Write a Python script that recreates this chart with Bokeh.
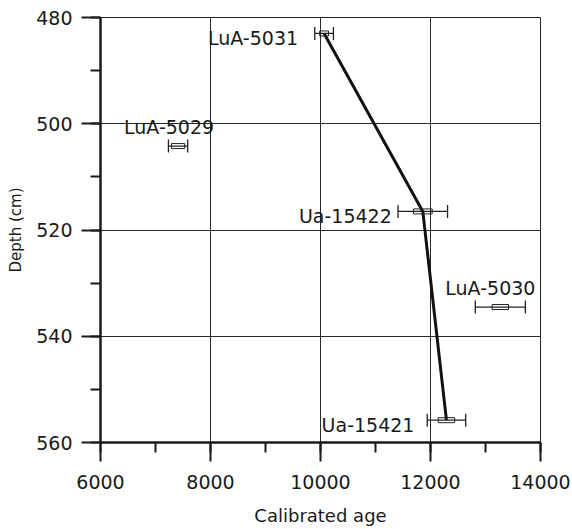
from bokeh.plotting import figure
from bokeh.models import (Range1d, SingleIntervalTicker, ColumnDataSource, Whisker,
                          TeeHead, BasicTickFormatter)
from bokeh.core.properties import value
from bokeh.embed import file_html
from bokeh.resources import INLINE

# Radiocarbon samples: calibrated age (median) with 2-sigma and 1-sigma half-widths
labels = ["LuA-5031", "LuA-5029", "Ua-15422", "LuA-5030", "Ua-15421"]
depth_cm = [483.0, 504.2, 516.5, 534.5, 555.8]
cal_age = [10065, 7410, 11860, 13270, 12290]
err_2sigma = [170, 175, 450, 455, 350]
err_1sigma = [80, 120, 170, 150, 150]

# Samples used in the age-depth model
model_samples = ["LuA-5031", "Ua-15422", "Ua-15421"]

# Label placement (screen pixels) and anchoring
label_dx = [-26, -9, -31, -10, -32]
label_dy = [5, -19, 5, -19, 5]
label_align = ["right", "center", "right", "center", "right"]

FONT = "DejaVu Sans"

p = figure(width=572, height=529, output_backend="svg", toolbar_location=None,
           x_range=Range1d(6000, 14000), y_range=Range1d(560, 480),
           min_border_left=100, min_border_right=32, min_border_top=17,
           min_border_bottom=87)
p.background_fill_color = "white"
p.border_fill_color = "white"
p.outline_line_color = "#222222"
p.outline_line_width = 1

# Axes
p.xaxis.ticker = SingleIntervalTicker(interval=2000, num_minor_ticks=2)
p.yaxis.ticker = SingleIntervalTicker(interval=20, num_minor_ticks=2)
p.xaxis.formatter = BasicTickFormatter(use_scientific=False)
for ax in (p.xaxis[0], p.yaxis[0]):
    ax.axis_line_width = 2.5
    ax.axis_line_color = "#1a1a1a"
    ax.major_tick_out = 19
    ax.major_tick_in = 0
    ax.minor_tick_out = 10
    ax.minor_tick_in = 0
    ax.major_tick_line_width = 2
    ax.minor_tick_line_width = 2
    ax.major_tick_line_color = "#1a1a1a"
    ax.minor_tick_line_color = "#1a1a1a"
    ax.major_label_text_font = FONT
    ax.major_label_text_font_size = "19px"
    ax.major_label_text_color = "#1a1a1a"
    ax.axis_label_text_font = FONT
    ax.axis_label_text_font_style = "normal"
    ax.axis_label_text_color = "#1a1a1a"

p.xaxis.axis_label = "Calibrated age"
p.xaxis.axis_label_text_font_size = "18px"
p.xaxis.major_label_standoff = 13
p.xaxis.axis_label_standoff = 13
p.yaxis.axis_label = "Depth (cm)"
p.yaxis.axis_label_text_font_size = "15px"
p.yaxis.major_label_standoff = 9
p.yaxis.axis_label_standoff = 8

# Grid
p.xgrid.grid_line_color = "#2a2a2a"
p.ygrid.grid_line_color = "#2a2a2a"
p.xgrid.grid_line_width = 1
p.ygrid.grid_line_width = 1

src = ColumnDataSource(dict(
    label=labels, depth=depth_cm, age=cal_age,
    lo2=[a - e for a, e in zip(cal_age, err_2sigma)],
    hi2=[a + e for a, e in zip(cal_age, err_2sigma)],
    w1=[2 * e for e in err_1sigma],
    dx=label_dx, dy=label_dy, align=label_align,
))

# Age-depth model line through the accepted samples
mx = [a for a, l in zip(cal_age, labels) if l in model_samples]
my = [d for d, l in zip(depth_cm, labels) if l in model_samples]
p.line(mx, my, line_color="#111111", line_width=3)

# 2-sigma ranges with end caps
whisk = Whisker(source=src, base="depth", lower="lo2", upper="hi2", dimension="width",
                line_color="#222222", line_width=1.3,
                lower_head=TeeHead(size=13, line_color="#222222", line_width=1.3),
                upper_head=TeeHead(size=13, line_color="#222222", line_width=1.3))
p.add_layout(whisk)

# 1-sigma ranges as narrow double bars
p.rect(x="age", y="depth", width="w1", height=5, height_units="screen", source=src,
       fill_color=None, line_color="#222222", line_width=1)

# Sample labels
p.text(x="age", y="depth", text="label", source=src, x_offset="dx", y_offset="dy",
       text_align="align", text_baseline="middle", text_font=value(FONT),
       text_font_size="19px", text_color="#1a1a1a")

open("out.html", "w").write(file_html(p, INLINE))
